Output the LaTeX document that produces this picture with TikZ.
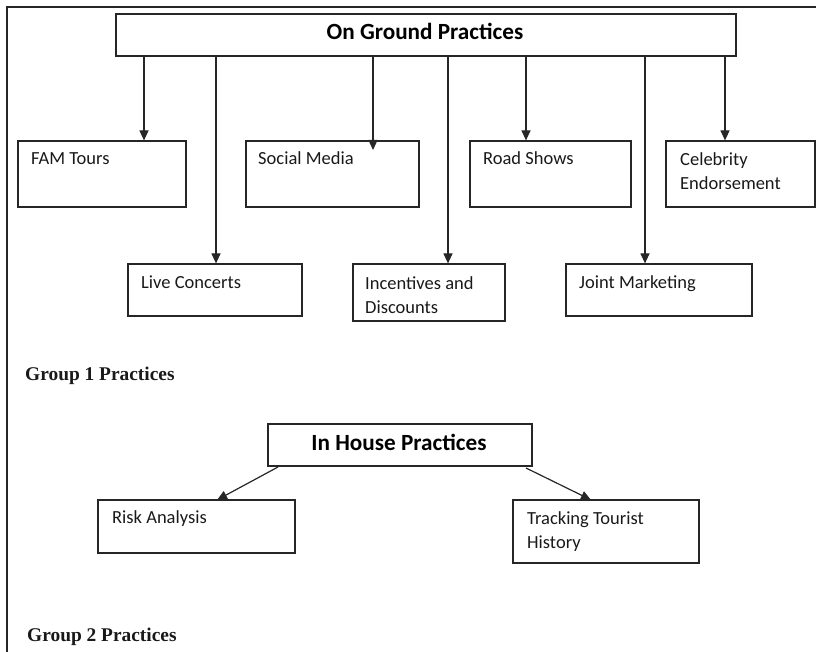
\documentclass[tikz,border=0pt]{standalone}
\usepackage{fontspec}
\setmainfont{Carlito}
\newfontfamily\grpfont{Liberation Serif}
\usetikzlibrary{arrows.meta}
\begin{document}
\begin{tikzpicture}[x=1pt,y=-1pt,
  frame/.style={draw=black!85,line width=1.2pt},
  box/.style={draw=black!85,line width=1.2pt,rectangle,inner sep=0pt},
  lbl/.style={font=\fontsize{18.5}{24}\selectfont,inner sep=0pt,anchor=base west,align=left,text=black!90},
  title/.style={font=\fontsize{23.2}{26}\selectfont\bfseries,inner sep=0pt,anchor=base,text=black},
  grp/.style={font=\grpfont\fontsize{19.4}{22}\selectfont\bfseries,inner sep=0pt,anchor=base west,text=black!90},
  arr/.style={draw=black!85,line width=1.2pt,-{Triangle[length=10pt,width=9pt]}},
  link/.style={draw=black!85,line width=1.2pt,-{Triangle[length=10pt,width=9pt]},shorten >=-1pt}]
\useasboundingbox (0,0) rectangle (816,652);
% page frame
\coordinate (fbl) at (7,652);
\coordinate (ftl) at (7,7);
\coordinate (ftr) at (816,7);
\draw[frame] (fbl) -- (ftl) -- (ftr);

% top box
\node[box,minimum width=620pt,minimum height=42pt] (top) at (426,35) {};
\node[title] (topt) at (425,40) {On Ground Practices};

% first row boxes
\node[box,minimum width=168pt,minimum height=66pt] (fam) at (102,174) {};
\node[box,minimum width=173pt,minimum height=66pt] (soc) at (332.5,174) {};
\node[box,minimum width=161pt,minimum height=66pt] (road) at (550.5,174) {};
\node[box,minimum width=149pt,minimum height=66pt] (celeb) at (740.5,174) {};
% second row boxes
\node[box,minimum width=174pt,minimum height=52pt] (live) at (215,290) {};
\node[box,minimum width=152pt,minimum height=57pt] (inc) at (429,292.5) {};
\node[box,minimum width=186pt,minimum height=52pt] (joint) at (659,290) {};

% labels
\node[lbl] (famt) at (31,165) {FAM Tours};
\node[lbl] (soct) at (258,165) {Social Media};
\node[lbl] (roadt) at (483,165) {Road Shows};
\node[lbl] (celebt) at (680,190) {Celebrity\\Endorsement};
\node[lbl] (livet) at (141,288) {Live Concerts};
\node[lbl] (inct) at (365,313) {Incentives and\\Discounts};
\node[lbl] (jointt) at (579,288) {Joint Marketing};

% arrows
\coordinate (socend) at (373,150);
\draw[arr] (top.south -| 144,0) -- (fam.north -| 144,0);
\draw[arr] (top.south -| 216,0) -- (live.north -| 216,0);
\draw[arr] (top.south -| socend) -- (socend);
\draw[arr] (top.south -| 448,0) -- (inc.north -| 448,0);
\draw[arr] (top.south -| 526,0) -- (road.north -| 526,0);
\draw[arr] (top.south -| 645,0) -- (joint.north -| 645,0);
\draw[arr] (top.south -| 725,0) -- (celeb.north -| 725,0);

% group 1
\node[grp] (g1) at (25,380) {Group 1 Practices};

% in house
\node[box,minimum width=264pt,minimum height=42pt] (house) at (400,445) {};
\node[title] (houset) at (399,450) {In House Practices};
\node[box,minimum width=197pt,minimum height=53pt] (risk) at (196.5,526.5) {};
\node[box,minimum width=186pt,minimum height=63pt] (track) at (606,531.5) {};
\node[lbl] (riskt) at (112,523) {Risk Analysis};
\node[lbl] (trackt) at (527,548) {Tracking Tourist\\History};

\coordinate (hl) at (278,467);
\coordinate (hr) at (526,468);
\draw[link] (hl) -- (risk.north -| 218,0);
\draw[link] (hr) -- (track.north -| 590,0);

% group 2
\node[grp] (g2) at (27,641) {Group 2 Practices};
\end{tikzpicture}
\end{document}
